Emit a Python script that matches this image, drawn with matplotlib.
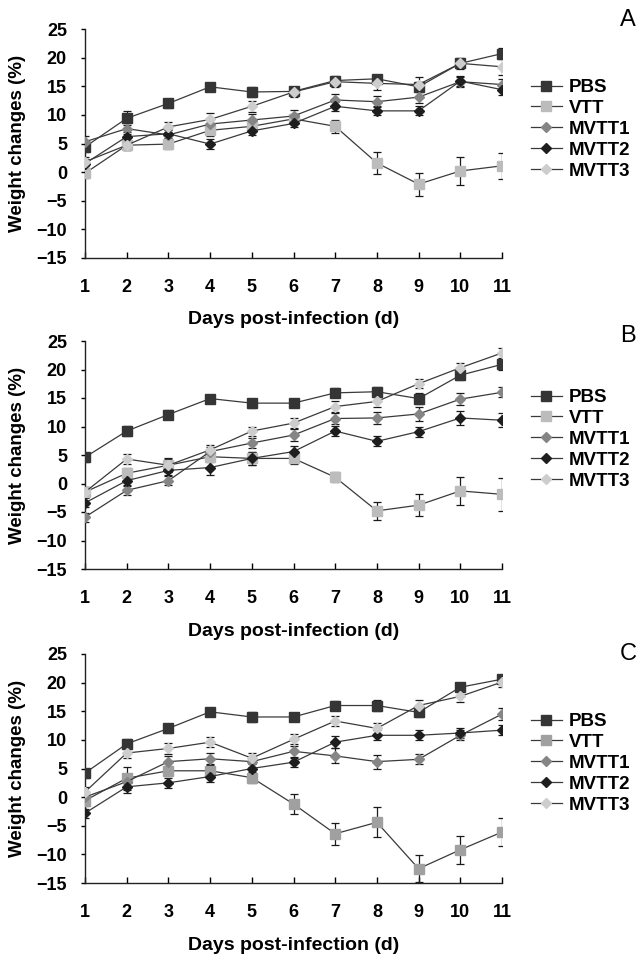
import matplotlib
matplotlib.use("Agg")
import matplotlib.pyplot as plt
import numpy as np

plt.rcParams['font.family'] = ['Liberation Sans', 'DejaVu Sans']

days = [1, 2, 3, 4, 5, 6, 7, 8, 9, 10, 11]
groups = ["PBS", "VTT", "MVTT1", "MVTT2", "MVTT3"]
panel_letters = ["A", "B", "C"]
yticks = [25, 20, 15, 10, 5, 0, -5, -10, -15]

# Panel A
pbs_a = [4.4, 9.4, 12.0, 14.9, 14.0, 14.1, 16.0, 16.3, 14.9, 19.0, 20.7]
vtt_a = [-0.2, 4.7, 4.9, 7.3, 8.0, 9.3, 8.0, 1.6, -2.1, 0.2, 1.1]
mvtt1_a = [5.3, 7.6, 6.5, 8.4, 9.1, 9.8, 12.6, 12.3, 13.1, 15.8, 15.3]
mvtt2_a = [1.5, 6.2, 6.7, 4.9, 7.2, 8.5, 11.5, 10.7, 10.7, 15.9, 14.4]
mvtt3_a = [1.8, 4.7, 7.9, 9.2, 11.5, 14.0, 15.8, 15.5, 15.3, 19.0, 18.4]
err_pbs_a = [0.8, 1.2, 0.8, 0.6, 0.8, 0.7, 0.7, 0.7, 0.8, 0.8, 0.9]
err_vtt_a = [0.9, 0.8, 0.8, 1.0, 0.8, 0.8, 1.1, 1.9, 2.0, 2.4, 2.3]
err_mvtt1_a = [1.0, 0.9, 0.8, 1.0, 1.0, 1.0, 1.1, 1.0, 1.0, 0.9, 1.0]
err_mvtt2_a = [0.8, 0.8, 0.8, 0.8, 0.7, 0.7, 0.8, 0.8, 0.8, 0.9, 0.9]
err_mvtt3_a = [0.8, 0.8, 0.9, 1.2, 1.0, 0.8, 1.0, 1.2, 1.3, 1.0, 1.5]

# Panel B
pbs_b = [4.6, 9.2, 12.1, 14.9, 14.1, 14.1, 15.9, 16.1, 14.9, 19.0, 20.9]
vtt_b = [-1.5, 1.8, 3.2, 4.7, 4.4, 4.4, 1.1, -4.8, -3.8, -1.3, -1.9]
mvtt1_b = [-5.9, -1.2, 0.5, 5.6, 7.1, 8.5, 11.4, 11.5, 12.2, 14.8, 16.0]
mvtt2_b = [-3.4, 0.5, 2.3, 2.8, 4.4, 5.6, 9.2, 7.4, 9.1, 11.5, 11.1]
mvtt3_b = [-1.5, 4.3, 3.2, 5.9, 9.2, 10.6, 13.5, 14.4, 17.5, 20.3, 22.9]
err_pbs_b = [0.8, 0.9, 0.8, 0.5, 0.8, 0.6, 0.8, 0.9, 0.9, 0.9, 1.0]
err_vtt_b = [0.8, 0.9, 1.2, 1.0, 1.2, 1.0, 0.9, 1.6, 1.9, 2.4, 2.9]
err_mvtt1_b = [0.8, 0.8, 0.8, 0.8, 0.9, 1.0, 1.0, 1.1, 1.2, 1.0, 0.9]
err_mvtt2_b = [0.8, 0.8, 0.8, 1.3, 1.2, 1.0, 0.9, 0.9, 0.9, 1.2, 1.2]
err_mvtt3_b = [0.8, 0.8, 1.1, 0.9, 0.8, 0.9, 0.9, 0.9, 0.8, 0.9, 0.9]

# Panel C
pbs_c = [4.2, 9.3, 12.0, 14.9, 14.0, 14.0, 16.0, 16.0, 14.8, 19.2, 20.6]
vtt_c = [-0.6, 3.3, 4.6, 4.6, 3.4, -1.2, -6.4, -4.4, -12.5, -9.2, -6.1]
mvtt1_c = [0.0, 2.7, 6.2, 6.7, 6.2, 8.0, 7.2, 6.2, 6.6, 10.8, 14.5]
mvtt2_c = [-2.8, 1.8, 2.5, 3.6, 5.0, 6.1, 9.6, 10.8, 10.8, 11.2, 11.7]
mvtt3_c = [0.9, 7.7, 8.5, 9.6, 6.8, 10.1, 13.3, 12.0, 16.0, 17.6, 20.1]
err_pbs_c = [0.8, 0.9, 0.8, 0.6, 0.8, 0.6, 0.8, 0.9, 0.8, 0.8, 0.8]
err_vtt_c = [0.9, 2.0, 0.9, 1.0, 1.0, 1.8, 1.9, 2.6, 2.4, 2.4, 2.4]
err_mvtt1_c = [0.9, 0.8, 1.0, 1.0, 1.0, 1.0, 1.3, 1.2, 0.9, 0.9, 1.0]
err_mvtt2_c = [0.8, 1.0, 0.9, 0.9, 0.8, 0.8, 1.0, 0.9, 0.9, 0.9, 0.9]
err_mvtt3_c = [0.8, 0.9, 0.9, 0.9, 0.9, 0.9, 0.9, 0.9, 0.9, 0.9, 0.9]

panels = [
    [(pbs_a, err_pbs_a), (vtt_a, err_vtt_a), (mvtt1_a, err_mvtt1_a), (mvtt2_a, err_mvtt2_a), (mvtt3_a, err_mvtt3_a)],
    [(pbs_b, err_pbs_b), (vtt_b, err_vtt_b), (mvtt1_b, err_mvtt1_b), (mvtt2_b, err_mvtt2_b), (mvtt3_b, err_mvtt3_b)],
    [(pbs_c, err_pbs_c), (vtt_c, err_vtt_c), (mvtt1_c, err_mvtt1_c), (mvtt2_c, err_mvtt2_c), (mvtt3_c, err_mvtt3_c)],
]

styles = [
    dict(marker='s', color='#353535', ms=7),
    dict(marker='s', color='#bcbcbc', ms=7),
    dict(marker='D', color='#858585', ms=5.5),
    dict(marker='D', color='#1e1e1e', ms=5.5),
    dict(marker='D', color='#cdcdcd', ms=5.5),
]
vtt_colors = ['#bcbcbc', '#bcbcbc', '#a0a0a0']

W, H = 638, 956
fig = plt.figure(figsize=(W / 100, H / 100), dpi=100)

# (top px, bottom px) of each panel
panel_px = [(29, 258), (341, 569), (654, 883)]
legend_top_px = [79, 389, 713]
letter_px = [20, 336, 654]
x_left, x_right = 85, 502

for i, (top, bot) in enumerate(panel_px):
    ax = fig.add_axes([x_left / W, 1 - bot / H, (x_right - x_left) / W, (bot - top) / H])
    handles = []
    for j, (vals, errs) in enumerate(panels[i]):
        st = styles[j]
        col = vtt_colors[i] if j == 1 else st['color']
        ax.errorbar(days, vals, yerr=errs, fmt='none', ecolor='#1a1a1a',
                    elinewidth=0.9, capsize=3, capthick=0.9, zorder=2)
        h, = ax.plot(days, vals, color='#3a3a3a', lw=0.9, marker=st['marker'],
                     ms=st['ms'], mfc=col, mec=col, zorder=3, label=groups[j])
        handles.append(h)
    ax.set_xlim(1, 11)
    ax.set_ylim(-15, 25)
    ax.set_xticks(days)
    ax.set_yticks(yticks)
    ax.spines['top'].set_visible(False)
    ax.spines['right'].set_visible(False)
    for s in ['left', 'bottom']:
        ax.spines[s].set_linewidth(1.0)
        ax.spines[s].set_color('#222222')
    ax.tick_params(axis='x', direction='in', length=4, width=1.0, pad=15,
                   labelsize=13)
    ax.tick_params(axis='y', direction='out', length=3, width=1.0, pad=10,
                   labelsize=13)
    for lab in ax.get_xticklabels() + ax.get_yticklabels():
        lab.set_fontweight('bold')
    ax.set_xlabel('Days post-infection (d)', fontsize=14, fontweight='bold')
    ax.xaxis.set_label_coords(0.5, -62 / (bot - top))
    ax.xaxis.label.set_va('center')
    ax.set_ylabel('Weight changes (%)', fontsize=13.5, fontweight='bold')
    ax.yaxis.set_label_coords(-(x_left - 18) / (x_right - x_left), 0.5)
    ax.yaxis.label.set_va('center')
    ax.patch.set_alpha(0)

    leg = ax.legend(handles=handles, loc='upper left',
                    bbox_to_anchor=(531 / W, 1 - legend_top_px[i] / H),
                    bbox_transform=fig.transFigure, frameon=False,
                    prop=dict(size=13.5, weight='bold'), handlelength=1.65,
                    handletextpad=0.35, labelspacing=0.2, borderpad=0,
                    borderaxespad=0)
    fig.text(628 / W, 1 - letter_px[i] / H, panel_letters[i], fontsize=17,
             ha='center', va='center')

fig.savefig('out.png', dpi=100)
